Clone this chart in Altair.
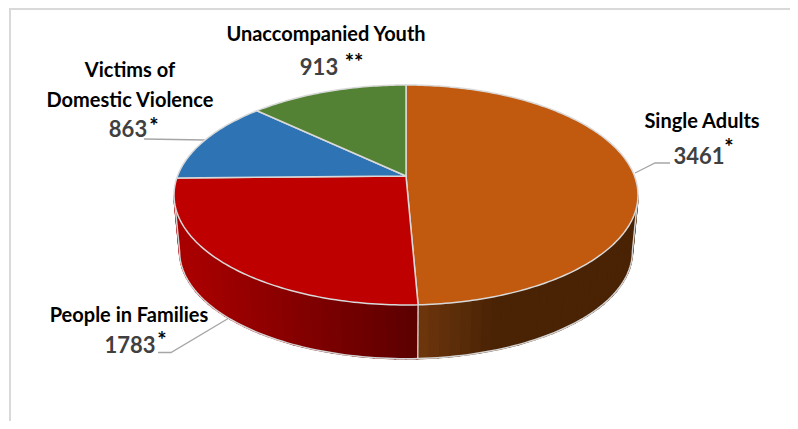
import math
import altair as alt

categories = ["Single Adults", "People in Families", "Victims of Domestic Violence", "Unaccompanied Youth"]
values = [3461, 1783, 863, 913]
top_colors = ["#c1590f", "#bf0000", "#2e74b5", "#548235"]

OFF = 8
CX, CY, A, B, K = 406 - OFF, 176 - OFF, 228.5, 106.7, 0.1727
CX2, CY2, A2, B2 = 406 - OFF, 233 - OFF, 223, 104.0


def top(t):
    u, v = math.sin(t), math.cos(t)
    d = 1 + K * v
    return [CX + A * u / d, CY - B * v / d]


def bottom(t):
    u, v = math.sin(t), math.cos(t)
    d = 1 + K * v
    return [CX2 + A2 * u / d, CY2 - B2 * v / d]


def mix(c1, c2, f):
    f = max(0.0, min(1.0, f))
    return "#%02x%02x%02x" % tuple(round(a + (b - a) * f) for a, b in zip(c1, c2))


def feature(kind, coords, **props):
    return {"type": "Feature", "properties": props, "geometry": {"type": kind, "coordinates": coords}}


total = sum(values)
bounds = [0.0]
for val in values:
    bounds.append(bounds[-1] + val / total * 2 * math.pi)

wedges = []
for i, color in enumerate(top_colors):
    n = max(8, int((bounds[i + 1] - bounds[i]) * 60))
    pts = [[CX, CY]] + [top(bounds[i] + (bounds[i + 1] - bounds[i]) * j / n) for j in range(n + 1)] + [[CX, CY]]
    wedges.append(feature("Polygon", [pts], fill=color, name=categories[i]))

split = bounds[1]
side = []
start, end = math.radians(99.9), math.radians(260.1)
steps = 70
grid = [start + (end - start) * j / steps for j in range(steps + 1)]
grid = sorted(grid + [split])
for a0, a1 in zip(grid, grid[1:]):
    xm = (top(a0)[0] + top(a1)[0]) / 2 + OFF
    if (a0 + a1) / 2 < split:
        col = mix((0x6e, 0x36, 0x0d), (0x4a, 0x23, 0x05), (xm - 418) / 75)
    else:
        col = mix((0xa8, 0x00, 0x00), (0x5c, 0x00, 0x00), (xm - 190) / 225)
    quad = [top(a0), top(a1), bottom(a1), bottom(a0), top(a0)]
    side.append(feature("Polygon", [quad], fill=col))

outline = [bottom(start + (end - start) * j / 120) for j in range(121)]
edge_feats = [feature("LineString", [top(start)] + outline + [top(end)])]
divider = [feature("LineString", [top(split), bottom(split)])]

border = [feature("LineString", [[10 - OFF, 413], [10 - OFF, 9 - OFF], [782, 9 - OFF]])]
leaders = [
    feature("LineString", [[144 - OFF, 139 - OFF], [205 - OFF, 140 - OFF]]),
    feature("LineString", [[670 - OFF, 163 - OFF], [655 - OFF, 163 - OFF], [635 - OFF, 173 - OFF]]),
    feature("LineString", [[158 - OFF, 352.5 - OFF], [171 - OFF, 352.5 - OFF], [229 - OFF, 318 - OFF]]),
]


def lines(data, color, width):
    return alt.Chart(alt.Data(values=data)).mark_geoshape(
        filled=False, stroke=color, strokeWidth=width, clip=False
    ).project(type="identity", scale=1, translate=[0, 0])


side_layer = alt.Chart(alt.Data(values=side)).mark_geoshape(strokeWidth=1.6).encode(
    fill=alt.Fill("properties.fill:N", scale=None, legend=None),
    stroke=alt.Stroke("properties.fill:N", scale=None, legend=None),
    order=alt.Order("properties.fill:N"),
).project(type="identity", scale=1, translate=[0, 0])

top_layer = alt.Chart(alt.Data(values=wedges)).mark_geoshape(stroke="#d9d9d9", strokeWidth=1.5).encode(
    fill=alt.Fill("properties.fill:N", scale=None, legend=None),
).project(type="identity", scale=1, translate=[0, 0])


def text(t, x, y, size=20, color="#000000"):
    return alt.Chart(alt.Data(values=[{"t": t}])).mark_text(
        font="Lato", fontWeight="bold", fontSize=size, color=color, align="center", baseline="alphabetic"
    ).encode(text="t:N", x=alt.value(x - OFF), y=alt.value(y - OFF))


GREY = "#404040"
texts = [
    text("Unaccompanied Youth", 326, 41),
    text("913", 319, 75, 22, GREY),
    text("**", 354, 70, 22),
    text("Victims of", 130, 77),
    text("Domestic Violence", 130, 107),
    text("863", 128, 137, 22, GREY),
    text("*", 154, 134, 22),
    text("Single Adults", 702, 128),
    text("3461", 699, 164, 22, GREY),
    text("*", 729, 155, 22),
    text("People in Families", 129, 322),
    text("1783", 130, 353, 22, GREY),
    text("*", 162, 348, 22),
]

chart = alt.layer(
    lines(border, "#d9d9d9", 2),
    lines(leaders, "#a6a6a6", 1.3),
    side_layer,
    lines(edge_feats, "#d4d4d4", 1.5),
    lines(divider, "#e8e8e8", 1.2),
    top_layer,
    *texts,
).properties(
    width=782, height=413, padding=0, background="#ffffff",
    autosize=alt.AutoSizeParams(type="none"),
).configure_view(stroke=None)

chart.save("out.html", embed_options={"renderer": "svg", "actions": False})
